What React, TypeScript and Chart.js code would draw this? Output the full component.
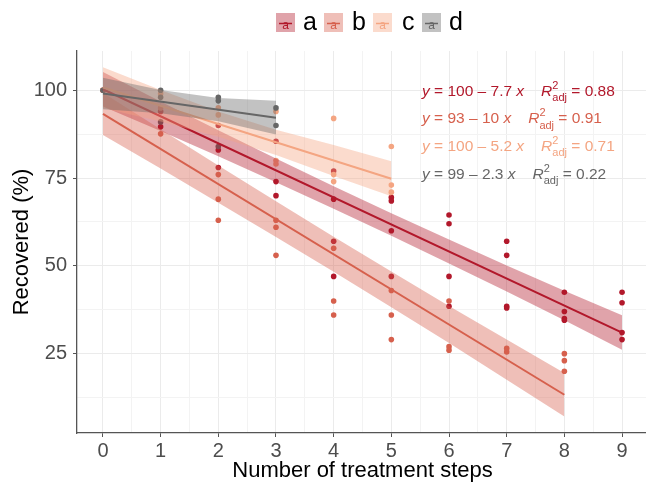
import React, { useEffect, useRef } from 'react';
import { Chart, registerables } from 'chart.js';

Chart.register(...registerables);

const FONT = '"Liberation Sans", Arial, Helvetica, sans-serif';

const seriesNames = ['a', 'b', 'c', 'd'];
const seriesColors = ['#B2182B', '#D6604D', '#F4A582', '#666666'];
const bandColors = ['rgba(178,24,43,0.4)', 'rgba(214,96,77,0.4)', 'rgba(244,165,130,0.4)', 'rgba(102,102,102,0.4)'];

// observed points
const aX = [0, 1, 1, 2, 2, 2, 3, 3, 3, 4, 4, 4, 4, 5, 5, 5, 5, 6, 6, 6, 6, 7, 7, 7, 7, 8, 8, 8, 8, 9, 9, 9, 9];
const aY = [100, 94, 89.6, 90, 83, 78, 85.5, 74, 70, 77, 69, 57, 47, 69.5, 68.5, 60, 47, 64.5, 62, 47, 38.5, 57, 53, 38.5, 38, 42.5, 37, 35, 34.5, 42.5, 39.5, 31, 29];
const bX = [0, 1, 2, 2, 2, 3, 3, 3, 4, 4, 4, 5, 5, 5, 6, 6, 6, 7, 7, 8, 8, 8];
const bY = [100, 87.6, 76, 69, 63, 63, 61, 53, 55, 40, 36, 43, 36, 29, 40, 27, 26, 26.5, 25.5, 25, 23, 20];
const cX = [0, 1, 1, 2, 2, 3, 3, 3, 4, 4, 4, 5, 5, 5];
const cY = [100, 99, 95, 95, 93, 94, 80, 79, 92, 76, 74, 84, 73, 71];
const dX = [0, 1, 1, 1, 2, 2, 2, 3, 3];
const dY = [100, 100, 98, 91, 98, 97, 84, 95, 90];

// fitted lines (intercept, slope) and their x extent
const fitIntercepts = [100.3, 93.3, 100.8, 99.1];
const fitSlopes = [-7.7, -10, -5.2, -2.3];
const fitXMax = [9, 8, 5, 3];

// confidence band half-widths at x = 0, 1, 2, ...
const bandHalfA = [4.9, 4.2, 3.7, 3.4, 3.2, 3.2, 3.4, 3.7, 4.2, 4.9];
const bandHalfB = [6.0, 5.6, 5.3, 5.1, 5.0, 5.1, 5.3, 5.7, 6.2];
const bandHalfC = [5.8, 4.5, 3.6, 3.6, 4.4, 5.0];
const bandHalfD = [4.5, 3.3, 3.3, 4.8];

// equation labels
const eqIntercepts = ['100', '93', '100', '99'];
const eqSlopes = ['7.7', '10', '5.2', '2.3'];
const r2Values = ['0.88', '0.91', '0.71', '0.22'];

// ticks
const xMajorTicks = [0, 1, 2, 3, 4, 5, 6, 7, 8, 9];
const xMinorTicks = [0.5, 1.5, 2.5, 3.5, 4.5, 5.5, 6.5, 7.5, 8.5];
const yMajorTicks = [25, 50, 75, 100];
const yMinorTicks = [12.5, 37.5, 62.5, 87.5];

const allX = [aX, bX, cX, dX];
const allY = [aY, bY, cY, dY];
const allBand = [bandHalfA, bandHalfB, bandHalfC, bandHalfD];

const legendPlugin = {
  id: 'customLegend',
  afterDraw(chart: any) {
    const ctx = chart.ctx;
    const boxX = [276, 324, 373, 422];
    const labelX = [303, 352, 402, 449];
    ctx.save();
    for (let i = 0; i < 4; i++) {
      const bx = boxX[i];
      const by = 13;
      ctx.fillStyle = '#ffffff';
      ctx.fillRect(bx, by, 19, 19);
      ctx.fillStyle = bandColors[i];
      ctx.fillRect(bx, by, 19, 19);
      ctx.strokeStyle = seriesColors[i];
      ctx.lineWidth = 1.5;
      ctx.beginPath();
      ctx.moveTo(bx + 3, by + 10.5);
      ctx.lineTo(bx + 16, by + 10.5);
      ctx.stroke();
      ctx.fillStyle = seriesColors[i];
      ctx.font = `12px ${FONT}`;
      ctx.textAlign = 'center';
      ctx.textBaseline = 'alphabetic';
      ctx.fillText('a', bx + 9.5, by + 16);
      ctx.fillStyle = '#000000';
      ctx.font = `25px ${FONT}`;
      ctx.textAlign = 'left';
      ctx.fillText(seriesNames[i], labelX[i], 29.5);
    }
    ctx.restore();
  },
};

const equationPlugin = {
  id: 'equations',
  afterDatasetsDraw(chart: any) {
    const ctx = chart.ctx;
    ctx.save();
    ctx.textAlign = 'left';
    ctx.textBaseline = 'alphabetic';
    for (let i = 0; i < 4; i++) {
      const y = 95.7 + 27.6 * i;
      let x = 422;
      ctx.fillStyle = seriesColors[i];
      const draw = (t: string, font: string, dy = 0) => {
        ctx.font = font;
        ctx.fillText(t, x, y + dy);
        return ctx.measureText(t).width;
      };
      const it = `italic 15.5px ${FONT}`;
      const nm = `15.5px ${FONT}`;
      const sm = `11px ${FONT}`;
      x += draw('y', it);
      x += draw(` = ${eqIntercepts[i]} \u2013 ${eqSlopes[i]} `, nm);
      x += draw('x', it);
      x += 17;
      x += draw('R', it);
      const w1 = draw('2', sm, -7);
      const w2 = draw('adj', sm, 5.5);
      x += Math.max(w1, w2);
      draw(` = ${r2Values[i]}`, nm);
    }
    ctx.restore();
  },
};

export default function App() {
  const canvasRef = useRef<HTMLCanvasElement | null>(null);

  useEffect(() => {
    if (!canvasRef.current) return;
    const datasets: any[] = [];
    for (let i = 0; i < 4; i++) {
      datasets.push({
        type: 'scatter',
        data: allX[i].map((x, j) => ({ x, y: allY[i][j] })),
        backgroundColor: seriesColors[i],
        borderWidth: 0,
        pointRadius: 2.8,
        order: 100 - i,
      });
    }
    for (let i = 0; i < 4; i++) {
      const b0 = fitIntercepts[i];
      const b1 = fitSlopes[i];
      const hw = allBand[i];
      const upperIdx = datasets.length;
      datasets.push({
        type: 'line',
        data: hw.map((h, x) => ({ x, y: b0 + b1 * x + h })),
        borderWidth: 0,
        borderColor: 'rgba(0,0,0,0)',
        backgroundColor: bandColors[i],
        pointRadius: 0,
        fill: upperIdx + 1,
        tension: 0,
        order: 50 - 3 * i,
      });
      datasets.push({
        type: 'line',
        data: hw.map((h, x) => ({ x, y: b0 + b1 * x - h })),
        borderWidth: 0,
        borderColor: 'rgba(0,0,0,0)',
        pointRadius: 0,
        fill: false,
        tension: 0,
        order: 50 - 3 * i,
      });
      datasets.push({
        type: 'line',
        data: [
          { x: 0, y: b0 },
          { x: fitXMax[i], y: b0 + b1 * fitXMax[i] },
        ],
        borderWidth: 2,
        borderColor: seriesColors[i],
        pointRadius: 0,
        fill: false,
        order: 49 - 3 * i,
      });
    }

    const xAll = [...xMajorTicks, ...xMinorTicks].sort((p, q) => p - q);
    const yAll = [...yMajorTicks, ...yMinorTicks].sort((p, q) => p - q);

    const chart = new Chart(canvasRef.current, {
      type: 'scatter',
      data: { datasets },
      options: {
        animation: false,
        responsive: false,
        events: [],
        layout: { padding: { top: 51, right: 0, left: 0, bottom: 0 } },
        plugins: {
          legend: { display: false },
          tooltip: { enabled: false },
        },
        scales: {
          x: {
            type: 'linear',
            min: -0.45,
            max: 9.45,
            afterBuildTicks: (scale: any) => {
              scale.ticks = xAll.map((v) => ({ value: v }));
            },
            afterFit: (scale: any) => {
              scale.height = 49;
            },
            ticks: {
              autoSkip: false,
              maxRotation: 0,
              padding: 2,
              color: '#4D4D4D',
              font: { size: 20, family: FONT },
              callback: (v: any) => (xMajorTicks.includes(v) ? String(v) : ''),
            },
            grid: {
              color: (c: any) => (c.tick && xMajorTicks.includes(c.tick.value) ? '#EBEBEB' : '#F3F3F3'),
              tickColor: (c: any) => (c.tick && xMajorTicks.includes(c.tick.value) ? '#555555' : 'rgba(0,0,0,0)'),
              tickLength: 4,
              lineWidth: 1,
            },
            border: { display: true, color: '#555555', width: 1.3 },
            title: {
              display: true,
              text: 'Number of treatment steps',
              color: '#000000',
              font: { size: 22, family: FONT, lineHeight: 1 },
              padding: { top: 0, bottom: 0 },
            },
          },
          y: {
            type: 'linear',
            min: 2.4,
            max: 111.2,
            afterBuildTicks: (scale: any) => {
              scale.ticks = yAll.map((v) => ({ value: v }));
            },
            afterFit: (scale: any) => {
              scale.width = 77;
            },
            ticks: {
              autoSkip: false,
              padding: 6,
              color: '#4D4D4D',
              font: { size: 20, family: FONT },
              callback: (v: any) => (yMajorTicks.includes(v) ? String(v) : ''),
            },
            grid: {
              color: (c: any) => (c.tick && yMajorTicks.includes(c.tick.value) ? '#EBEBEB' : '#F3F3F3'),
              tickColor: (c: any) => (c.tick && yMajorTicks.includes(c.tick.value) ? '#555555' : 'rgba(0,0,0,0)'),
              tickLength: 4,
              lineWidth: 1,
            },
            border: { display: true, color: '#555555', width: 1.3 },
            title: {
              display: true,
              text: 'Recovered (%)',
              color: '#000000',
              font: { size: 22, family: FONT },
              padding: { top: 9, bottom: 0 },
            },
          },
        },
      },
      plugins: [legendPlugin, equationPlugin],
    } as any);

    return () => chart.destroy();
  }, []);

  return (
    <div
      style={{
        position: 'fixed',
        left: 0,
        top: 0,
        width: 646,
        height: 482,
        overflow: 'hidden',
        background: '#ffffff',
      }}
    >
      <canvas ref={canvasRef} width={652} height={482} style={{ display: 'block', width: 652, height: 482 }} />
    </div>
  );
}
